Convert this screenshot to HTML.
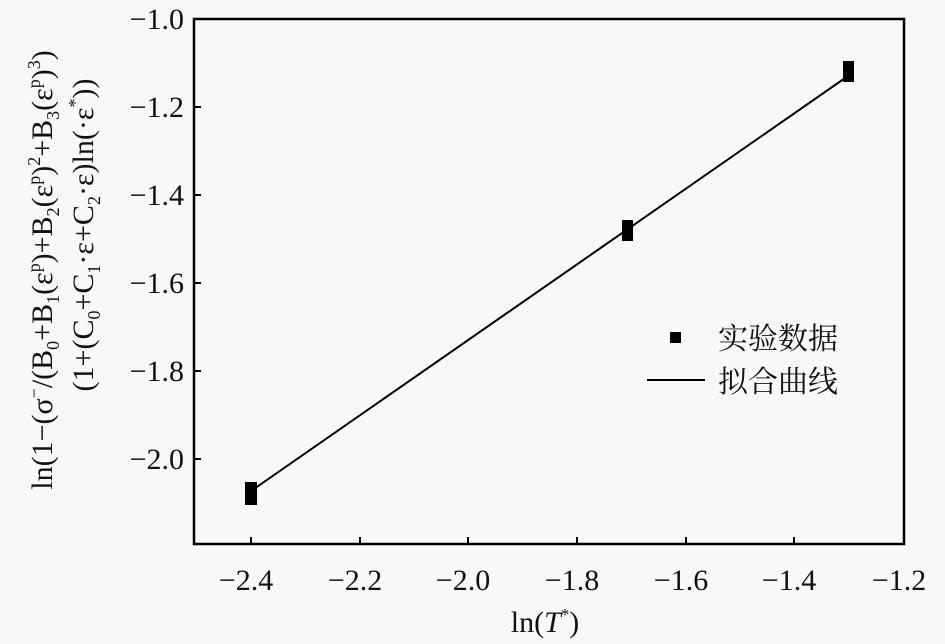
<!DOCTYPE html>
<html><head><meta charset="utf-8"><style>
html,body{margin:0;padding:0;background:#f8f8f8;}
svg text{font-family:"Liberation Serif","Noto Serif CJK SC",serif;fill:#111;}
</style></head><body>
<svg width="945" height="639" xmlns="http://www.w3.org/2000/svg">
<rect width="945" height="639" fill="#f8f8f8"/>
<rect x="194" y="19" width="710" height="525" fill="none" stroke="#000" stroke-width="2.5"/>
<g stroke="#000" stroke-width="2">
<line x1="194" y1="107" x2="201" y2="107"/><line x1="194" y1="195" x2="201" y2="195"/>
<line x1="194" y1="283" x2="201" y2="283"/><line x1="194" y1="371" x2="201" y2="371"/>
<line x1="194" y1="459" x2="201" y2="459"/>
<line x1="251" y1="544" x2="251" y2="537"/><line x1="360" y1="544" x2="360" y2="537"/>
<line x1="468" y1="544" x2="468" y2="537"/><line x1="577" y1="544" x2="577" y2="537"/>
<line x1="686" y1="544" x2="686" y2="537"/><line x1="794" y1="544" x2="794" y2="537"/>
</g>
<g font-size="30" text-anchor="end">
<text x="184" y="29">−1.0</text><text x="184" y="117">−1.2</text><text x="184" y="205">−1.4</text>
<text x="184" y="293">−1.6</text><text x="184" y="381">−1.8</text><text x="184" y="469">−2.0</text>
</g>
<g font-size="30" text-anchor="middle">
<text x="246" y="590">−2.4</text><text x="355" y="590">−2.2</text><text x="463" y="590">−2.0</text>
<text x="572" y="590">−1.8</text><text x="681" y="590">−1.6</text><text x="789" y="590">−1.4</text>
<text x="899" y="590">−1.2</text>
<text x="545" y="632">ln(<tspan font-style="italic">T</tspan><tspan font-size="17" dy="-12">*</tspan><tspan dy="12">)</tspan></text>
</g>
<g font-size="30" text-anchor="middle">
<text transform="translate(52,270) rotate(-90)">ln(1−(σ<tspan font-size="18" dy="-12">−</tspan><tspan dy="12">/(B</tspan><tspan font-size="18" dy="7">0</tspan><tspan dy="-7">+B</tspan><tspan font-size="18" dy="7">1</tspan><tspan dy="-7">(ε</tspan><tspan font-size="18" dy="-12">p</tspan><tspan dy="12">)+B</tspan><tspan font-size="18" dy="7">2</tspan><tspan dy="-7">(ε</tspan><tspan font-size="18" dy="-12">p</tspan><tspan dy="12">)</tspan><tspan font-size="18" dy="-12">2</tspan><tspan dy="12">+B</tspan><tspan font-size="18" dy="7">3</tspan><tspan dy="-7">(ε</tspan><tspan font-size="18" dy="-12">p</tspan><tspan dy="12">)</tspan><tspan font-size="18" dy="-12">3</tspan><tspan dy="12">)</tspan></text>
<text transform="translate(93,235) rotate(-90)">(1+(C<tspan font-size="18" dy="7">0</tspan><tspan dy="-7">+C</tspan><tspan font-size="18" dy="7">1</tspan><tspan dy="-7">·ε+C</tspan><tspan font-size="18" dy="7">2</tspan><tspan dy="-7">·ε)ln(·ε</tspan><tspan font-size="18" dy="-12">*</tspan><tspan dy="12">))</tspan></text>
</g>
<line x1="251" y1="491" x2="848" y2="76" stroke="#000" stroke-width="2"/>
<g fill="#000">
<rect x="245" y="482" width="12" height="23"/>
<rect x="622" y="220" width="11" height="21"/>
<rect x="843" y="61" width="11" height="21"/>
<rect x="670" y="332" width="11" height="11"/>
</g>
<line x1="647" y1="380" x2="705" y2="380" stroke="#000" stroke-width="2"/>
<g font-size="30">
<text x="718" y="349">实验数据</text>
<text x="718" y="392">拟合曲线</text>
</g>
</svg>
</body></html>
